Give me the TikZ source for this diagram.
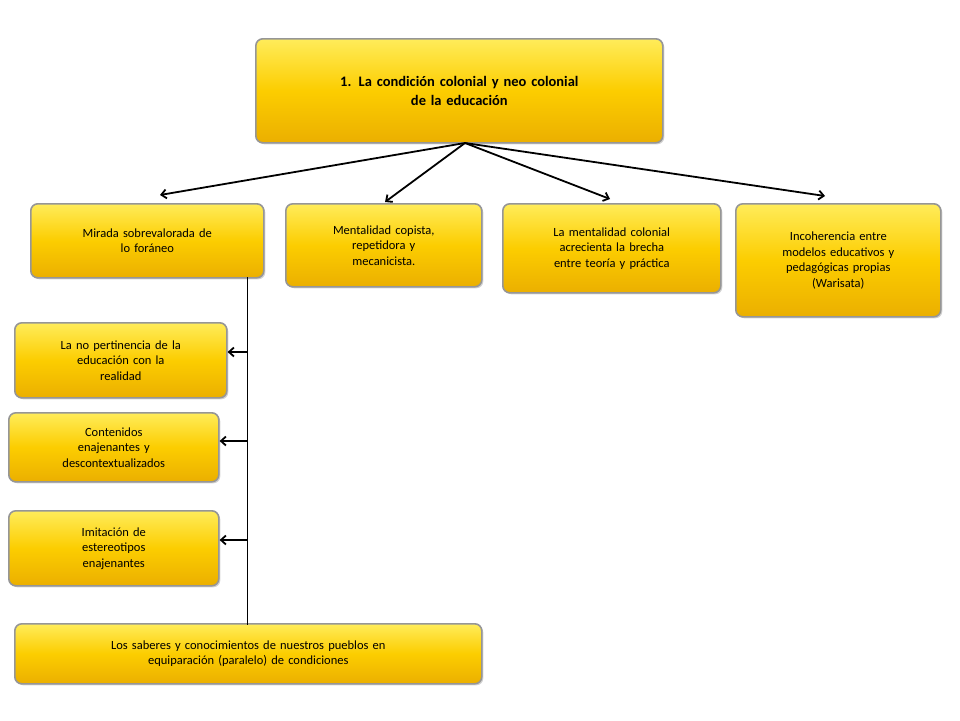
\documentclass[tikz,border=0pt]{standalone}
\usepackage{fontspec}
\setmainfont{Carlito}
\usetikzlibrary{shadows,arrows.meta}
\begin{document}
\begin{tikzpicture}[x=1pt,y=-1pt,
  ybox/.style={draw={rgb,255:red,150;green,150;blue,150},line width=1.6pt,rounded corners=7pt,
    top color={rgb,255:red,255;green,236;blue,90},bottom color={rgb,255:red,235;green,175;blue,0},
    middle color={rgb,255:red,252;green,205;blue,0},
    drop shadow={shadow xshift=1.5pt,shadow yshift=-1.5pt,opacity=0.35},
    align=center,inner sep=2pt,font=\fontsize{12.5}{15.5}\selectfont,anchor=north west},
  arrb/.style={-{Straight Barb[length=5pt,width=9pt]},line width=1.8pt}]
\useasboundingbox (0,0) rectangle (960,720);
\node[ybox,minimum width=407pt,minimum height=104pt,text width=390pt,font=\fontsize{14.5}{19}\selectfont\bfseries] (top) at (255,38) {1. La condición colonial y neo colonial\\de la educación};
\node[ybox,minimum width=233pt,minimum height=74pt,text width=225pt,anchor=north west] (a) at (30,203) {Mirada sobrevalorada de\\lo foráneo\\[10pt]};
\node[ybox,minimum width=196pt,minimum height=83pt,text width=190pt] (b) at (285,203) {Mentalidad copista,\\repetidora y\\mecanicista.};
\node[ybox,minimum width=218pt,minimum height=89pt,text width=212pt] (c) at (502,203) {La mentalidad colonial\\acrecienta la brecha\\entre teoría y práctica};
\node[ybox,minimum width=205pt,minimum height=113pt,text width=200pt] (d) at (735,203) {Incoherencia entre\\modelos educativos y\\pedagógicas propias\\(Warisata)};
\node[ybox,minimum width=212pt,minimum height=75pt,text width=206pt] (l1) at (14,322) {La no pertinencia de la\\educación con la\\realidad};
\node[ybox,minimum width=210pt,minimum height=69pt,text width=204pt] (l2) at (8,412) {Contenidos\\enajenantes y\\descontextualizados};
\node[ybox,minimum width=210pt,minimum height=75pt,text width=204pt] (l3) at (8,510) {Imitación de\\estereotipos\\enajenantes};
\node[ybox,minimum width=467pt,minimum height=60pt,text width=460pt] (bot) at (14,623) {Los saberes y conocimientos de nuestros pueblos en\\equiparación (paralelo) de condiciones};
\coordinate (o) at (465,143);
\coordinate (ta) at (160,195);
\coordinate (tb) at (385,202);
\coordinate (tc) at (610,199);
\coordinate (td) at (825,196);
\foreach \t in {ta,tb,tc,td} \draw[arrb] (o) -- (\t);
\coordinate (v0) at (247,277);
\coordinate (v1) at (247,625);
\draw[line width=0.8pt] (v0) -- (v1);
\coordinate (s1) at (247,352);
\coordinate (s2) at (247,441);
\coordinate (s3) at (247,540);
\draw[arrb] (s1) -- (l1.east |- s1);
\draw[arrb] (s2) -- (l2.east |- s2);
\draw[arrb] (s3) -- (l3.east |- s3);
\end{tikzpicture}
\end{document}
